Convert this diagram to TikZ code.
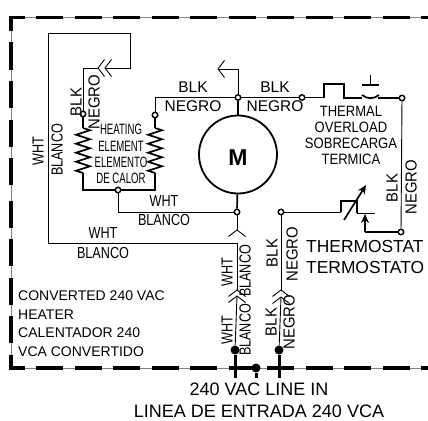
\documentclass[tikz,border=0pt]{standalone}
\usepackage{fontspec}
\setmainfont{Liberation Sans}
\newfontfamily\slimfont[FakeStretch=0.79]{Liberation Sans}
\newfontfamily\midfont[FakeStretch=0.93]{Liberation Sans}
\newfontfamily\ovlfont[FakeStretch=0.87]{Liberation Sans}
\newfontfamily\heatfont[FakeStretch=0.64]{Liberation Sans}
\usetikzlibrary{decorations.pathmorphing, arrows.meta}
\tikzset{
  wire/.style={line width=0.9pt},
  heavy/.style={line width=1.7pt},
  stem/.style={line width=3pt},
  border/.style={line width=3.4pt, dash pattern=on 27pt off 11.5pt, dash phase=20pt},
  coil/.style={heavy, decorate, decoration={zigzag, segment length=9pt, amplitude=7pt}},
  term/.style={circle, draw, fill=white, line width=1.4pt, inner sep=0pt, minimum size=5.5pt},
  dot/.style={circle, fill=black, inner sep=0pt, minimum size=9pt},
  lbl/.style={inner sep=0pt, font=\fontsize{15.5}{16}\selectfont},
  slim/.style={inner sep=0pt, font=\slimfont\fontsize{16}{16}\selectfont},
  vlbl/.style={inner sep=0pt, rotate=90, font=\midfont\fontsize{16}{16}\selectfont},
  vslim/.style={slim, rotate=90},
  plug/.pic={\draw[wire] (-8.5,6.5) -- (0,0) -- (8.5,6.5);}
}
\begin{document}
\begin{tikzpicture}[x=1pt, y=-1pt, >={Stealth[length=9pt, width=8pt]}]
  \useasboundingbox (0,0) rectangle (428,420);
  % border
  \draw[line width=0.4pt, gray] (428,17.5) -- (11,17.5) -- (11,368) -- (428,368);
  \draw[border] (428,17.5) -- (11,17.5) -- (11,190);
  \draw[border] (428,368) -- (11,368) -- (11,190);
  % terminals
  \foreach \name/\pos in {heatL/{(83,114)}, heatR/{(155,115)}, heatB/{(118,190)}, motorT/{(238,97.5)},
      motorB/{(237,212)}, ovlL/{(302,97.5)}, ovlR/{(402,98)}, lineB/{(281,212)}, thermR/{(401,232)}}
    \node[term] (\name) at \pos {};
  \node[dot] (dotW) at (235,350) {};
  \node[dot] (dotB) at (279,350) {};
  \node[dot] (dotG) at (256,368) {};
  \node[circle, draw, line width=1.8pt, inner sep=0pt, minimum size=78pt] (motor) at (238,154.5) {};
  \node[font=\bfseries\fontsize{23}{23}\selectfont, inner sep=0pt] (motorM) at (238,158) {M};
  % free ends
  \coordinate (plugA) at (105,68);
  \coordinate (plugB) at (98,68);
  \coordinate (backT) at (218,69);
  \coordinate (forkM) at (237,230);
  \coordinate (plugWa) at (237,290);
  \coordinate (plugWb) at (237,296);
  \coordinate (plugBa) at (281,290);
  \coordinate (plugBb) at (281,297);
  \coordinate (coilLa) at (83,128);
  \coordinate (coilLb) at (83,173);
  \coordinate (coilRa) at (155,128);
  \coordinate (coilRb) at (155,173);
  % heater
  \draw[wire] (forkM) -- (motorB);
  \draw[wire] (48,33) -- (130,33) -- (130,68) -- (plugA);
  \draw[wire] (48,33) -- (48,243) -- (237,243) -- (plugWa);
  \draw[wire] (plugB) -| (heatL);
  \draw[heavy] (heatL) -- (coilLa);
  \draw[coil] (coilLa) -- (coilLb);
  \draw[heavy] (coilLb) |- (heatB);
  \draw[heavy] (heatR) -- (coilRa);
  \draw[coil] (coilRa) -- (coilRb);
  \draw[heavy] (coilRb) |- (heatB);
  \draw[wire] (heatB) |- (motorB);
  \draw[wire] (heatR) |- (motorT);
  \draw[wire] (motorT) |- (backT);
  \draw[heavy] (motorT) -- (motor);
  \draw[heavy] (motorB) -- (motor);
  \draw[wire] (motorT) -- (ovlL);
  % overload
  \draw[heavy] (ovlL) -- (324,97.5) -- (324,84) -- (344,84) -- (344,98) -- (362,98);
  \draw[heavy] (378,98) -- (ovlR);
  \draw[heavy] (362,95) to[out=-40, in=-140] (379,95);
  \draw[heavy] (362,85) -- (379,85);
  \draw[wire] (370.5,85) -- (370.5,75);
  \draw[wire] (ovlR) -- (thermR);
  % thermostat
  \draw[wire] (lineB) -- (341,212);
  \draw[heavy] (341,212) -- (341,201) -- (357,201) -- (357,213);
  \draw[wire] (357,213) -- (375,213);
  \draw[heavy,->] (344,220) -- (366,185);
  \draw[heavy,->] (365,232) -- (365,214);
  \draw[heavy] (365,232) -- (thermR);
  % line in
  \draw[wire] (lineB) -- (plugBa);
  \draw[wire] (plugWb) -- (dotW);
  \draw[wire] (plugBb) -- (dotB);
  \draw[stem] (dotW) -- (235,378);
  \draw[stem] (dotB) -- (279,378);
  \draw[stem] (dotW |- dotG) -- (dotG);
  \draw[stem] (dotG) -- (256,378);
  % plugs
  \pic[rotate=90] at (plugA) {plug};
  \pic[rotate=90] at (plugB) {plug};
  \pic[rotate=90] at (backT) {plug};
  \foreach \pos in {forkM, plugWa, plugWb, plugBa, plugBb}
    \pic at (\pos) {plug};
  % labels
  \node[vlbl] (blkHeat) at (76,102) {BLK};
  \node[vlbl] (negroHeat) at (94,102) {NEGRO};
  \node[vslim] (whtSide) at (38,151) {WHT};
  \node[vslim] (blancoSide) at (57,150) {BLANCO};
  \node[lbl] (blkTopA) at (193,87) {BLK};
  \node[lbl] (negroTopA) at (193,106) {NEGRO};
  \node[lbl] (blkTopB) at (275,87) {BLK};
  \node[lbl] (negroTopB) at (275,106) {NEGRO};
  \node[slim] (whtMotor) at (164,201) {WHT};
  \node[slim] (blancoMotor) at (164,220) {BLANCO};
  \node[slim] (whtLow) at (103,233) {WHT};
  \node[slim] (blancoLow) at (103,253) {BLANCO};
  \node[vslim] (whtLineA) at (227,272) {WHT};
  \node[vslim] (blancoLineA) at (245,271) {BLANCO};
  \node[vslim] (whtLineB) at (227,330) {WHT};
  \node[vslim] (blancoLineB) at (245,330) {BLANCO};
  \node[vlbl] (blkLineA) at (272,253) {BLK};
  \node[vlbl] (negroLineA) at (292,254) {NEGRO};
  \node[vlbl] (blkLineB) at (271,322) {BLK};
  \node[vlbl] (negroLineB) at (289,322) {NEGRO};
  \node[vlbl] (blkRight) at (392,188) {BLK};
  \node[vlbl] (negroRight) at (411,187) {NEGRO};
  \node[inner sep=0pt, align=center, font=\heatfont\fontsize{15}{16.2}\selectfont] (heatTxt) at (121,154) {HEATING\\ELEMENT\\ELEMENTO\\DE CALOR};
  \node[inner sep=0pt, align=center, font=\ovlfont\fontsize{15}{16}\selectfont] (ovlTxt) at (351,135) {THERMAL\\OVERLOAD\\SOBRECARGA\\TERMICA};
  \node[inner sep=0pt, align=left, anchor=west, font=\fontsize{17.4}{21}\selectfont] (thermTxt) at (306,257.5) {THERMOSTAT\\TERMOSTATO};
  \node[inner sep=0pt, align=left, anchor=west, font=\fontsize{14}{18.5}\selectfont] (heaterTxt) at (18,323.5) {CONVERTED 240 VAC\\HEATER\\CALENTADOR 240\\VCA CONVERTIDO};
  \node[inner sep=0pt, align=center, font=\fontsize{18}{22}\selectfont] (lineTxt) at (259,400) {240 VAC LINE IN\\LINEA DE ENTRADA 240 VCA};
\end{tikzpicture}
\end{document}
